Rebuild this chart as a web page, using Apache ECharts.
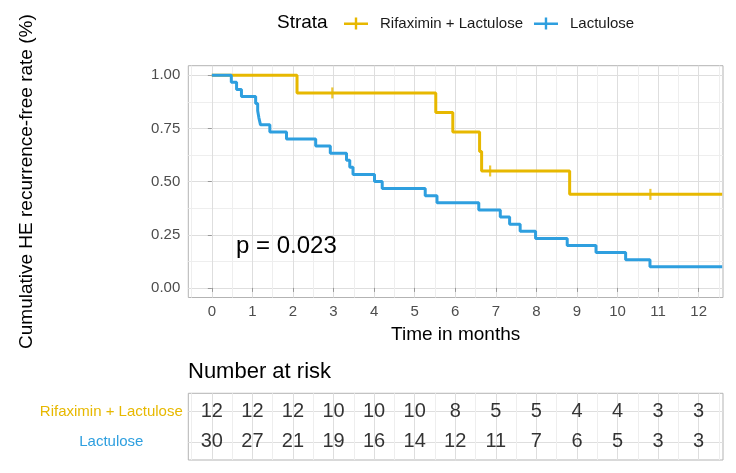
<!DOCTYPE html>
<html>
<head>
<meta charset="utf-8">
<script src="https://cdn.jsdelivr.net/npm/echarts@6/dist/echarts.min.js"></script>
<style>
html,body{margin:0;padding:0;background:#fff;}
#c{width:736px;height:473px;}
</style>
</head>
<body>
<div id="c"></div>
<script>
// ---- data ----
const rifTimes = [0, 2.10, 5.52, 5.94, 6.60, 6.65, 8.82, 12.58];
const rifSurv  = [1, 0.917, 0.825, 0.733, 0.642, 0.550, 0.440, 0.440];
const rifCensorTimes = [2.97, 6.86, 10.81];
const rifCensorSurv  = [0.917, 0.550, 0.440];

const lacTimes = [0, 0.48, 0.61, 0.73, 1.08, 1.13, 1.16, 1.20, 1.43, 1.84, 2.56, 2.92, 3.32, 3.40, 3.48,
                  4.01, 4.20, 5.26, 5.55, 6.58, 7.11, 7.34, 7.60, 7.98, 8.76, 9.47, 10.20, 10.80, 12.58];
const lacSurv  = [1, 0.967, 0.933, 0.900, 0.867, 0.833, 0.800, 0.767, 0.733, 0.700, 0.667, 0.633, 0.600, 0.567, 0.533,
                  0.500, 0.467, 0.433, 0.400, 0.367, 0.333, 0.300, 0.267, 0.233, 0.200, 0.167, 0.133, 0.100, 0.100];

const xTicks = [0,1,2,3,4,5,6,7,8,9,10,11,12];
const xMinor = [-0.5,0.5,1.5,2.5,3.5,4.5,5.5,6.5,7.5,8.5,9.5,10.5,11.5,12.5];
const yTicks = [0, 0.25, 0.5, 0.75, 1];
const yMinor = [0.125, 0.375, 0.625, 0.875];

const riskTimes = [0,1,2,3,4,5,6,7,8,9,10,11,12];
const riskRif = [12,12,12,10,10,10,8,5,5,4,4,3,3];
const riskLac = [30,27,21,19,16,14,12,11,7,6,5,3,3];

const strataNames = ['Rifaximin + Lactulose', 'Lactulose'];
const colRif = '#E7B800', colLac = '#2E9FDF';

// ---- layout ----
const FONT = 'Liberation Sans, Arial, sans-serif';
const X0 = 188.3, X1 = 723;
const xMin = -0.58, xMax = 12.6;
const majorCol = '#dedede', minorCol = '#eeeeee', borderCol = '#b3b3b3';

const chart = echarts.init(document.getElementById('c'), null, {renderer: 'canvas'});

function pairs(xs, ys){ return xs.map((x,i)=>[x, ys[i]]); }

const fmtY = v => Number(v).toFixed(2);

const option = {
  backgroundColor: '#fff',
  textStyle: {fontFamily: FONT},
  animation: false,
  grid: [
    {left: X0, top: 65.7, width: X1 - X0, height: 231.8, show: true, borderColor: borderCol, borderWidth: 1, backgroundColor: '#fff'},
    {left: X0, top: 393.3, width: X1 - X0, height: 66.7, show: true, borderColor: borderCol, borderWidth: 1, backgroundColor: '#fff'}
  ],
  xAxis: [
    { // main major
      type: 'value', gridIndex: 0, min: xMin, max: xMax,
      name: 'Time in months', nameLocation: 'middle', nameGap: 28,
      nameTextStyle: {fontSize: 19, color: '#000', fontFamily: FONT},
      axisLine: {show: false},
      axisTick: {show: true, customValues: xTicks, length: 4, lineStyle: {color: '#999'}},
      axisLabel: {customValues: xTicks, fontSize: 15, color: '#4d4d4d', margin: 7, fontFamily: FONT},
      splitLine: {show: true, lineStyle: {color: majorCol, width: 1}}
    },
    { // main minor
      type: 'value', gridIndex: 0, min: xMin, max: xMax,
      axisLine: {show: false}, axisLabel: {show: false},
      axisTick: {show: false, customValues: xMinor},
      splitLine: {show: true, lineStyle: {color: minorCol, width: 1}}
    },
    { // table major
      type: 'value', gridIndex: 1, min: xMin, max: xMax,
      axisLine: {show: false}, axisLabel: {show: false},
      axisTick: {show: false, customValues: xTicks},
      splitLine: {show: true, lineStyle: {color: majorCol, width: 1}}
    },
    { // table minor
      type: 'value', gridIndex: 1, min: xMin, max: xMax,
      axisLine: {show: false}, axisLabel: {show: false},
      axisTick: {show: false, customValues: xMinor},
      splitLine: {show: true, lineStyle: {color: minorCol, width: 1}}
    }
  ],
  yAxis: [
    {
      type: 'value', gridIndex: 0, min: -0.045, max: 1.045,
      name: 'Cumulative HE recurrence-free rate (%)', nameLocation: 'middle', nameGap: 152,
      nameTextStyle: {fontSize: 19, color: '#000', fontFamily: FONT},
      axisLine: {show: false},
      axisTick: {show: true, customValues: yTicks, length: 4, lineStyle: {color: '#999'}},
      axisLabel: {customValues: yTicks, fontSize: 15, color: '#4d4d4d', margin: 8, formatter: fmtY, fontFamily: FONT},
      splitLine: {show: true, lineStyle: {color: majorCol, width: 1}}
    },
    {
      type: 'value', gridIndex: 0, min: -0.045, max: 1.045,
      axisLine: {show: false}, axisLabel: {show: false},
      axisTick: {show: false, customValues: yMinor},
      splitLine: {show: true, lineStyle: {color: minorCol, width: 1}}
    },
    {
      type: 'value', gridIndex: 1, min: 0.4, max: 2.6,
      axisLine: {show: false},
      axisTick: {show: false, customValues: [1, 2]},
      axisLabel: {
        customValues: [1, 2], fontSize: 15, align: 'center', margin: 77, fontFamily: FONT,
        formatter: v => (Number(v) === 2 ? strataNames[0] : strataNames[1]),
        color: v => (Number(v) === 2 ? colRif : colLac)
      },
      splitLine: {show: true, lineStyle: {color: majorCol, width: 1}}
    }
  ],
  legend: {
    left: 339, top: 11,
    itemWidth: 24, itemHeight: 12, itemGap: 11,
    icon: 'path://M0,5h24v2.4h-24z M10.8,0h2.4v12h-2.4z',
    textStyle: {fontSize: 15, color: '#1a1a1a', padding: [0, 0, 0, 7], fontFamily: FONT},
    data: strataNames,
    selectedMode: false
  },
  graphic: [
    {type: 'text', left: 277, top: 13, z: 100, style: {text: 'Strata', fontSize: 19, fill: '#000', fontFamily: FONT}},
    {type: 'text', left: 236, top: 234, z: 100, style: {text: 'p = 0.023', fontSize: 24, fill: '#000', fontFamily: FONT}},
    {type: 'text', left: 188, top: 361, z: 100, style: {text: 'Number at risk', fontSize: 22, fill: '#000', fontFamily: FONT}}
  ],
  series: [
    {
      name: strataNames[0], type: 'line', step: 'end', xAxisIndex: 0, yAxisIndex: 0,
      data: pairs(rifTimes, rifSurv), showSymbol: false, symbol: 'none',
      lineStyle: {color: colRif, width: 3}, itemStyle: {color: colRif}, z: 3
    },
    {
      name: 'rifCensor', type: 'scatter', xAxisIndex: 0, yAxisIndex: 0,
      data: pairs(rifCensorTimes, rifCensorSurv), symbol: 'rect', symbolSize: [2.2, 11],
      itemStyle: {color: colRif}, z: 3
    },
    {
      name: strataNames[1], type: 'line', step: 'end', xAxisIndex: 0, yAxisIndex: 0,
      data: pairs(lacTimes, lacSurv), showSymbol: false, symbol: 'none',
      lineStyle: {color: colLac, width: 3}, itemStyle: {color: colLac}, z: 4
    },
    {
      name: 'riskRif', type: 'scatter', xAxisIndex: 2, yAxisIndex: 2,
      data: riskTimes.map((t, i) => [t, 2, riskRif[i]]), symbolSize: 0,
      label: {show: true, position: 'inside', formatter: p => String(p.value[2]), fontSize: 20, color: '#000', fontFamily: FONT}
    },
    {
      name: 'riskLac', type: 'scatter', xAxisIndex: 2, yAxisIndex: 2,
      data: riskTimes.map((t, i) => [t, 1, riskLac[i]]), symbolSize: 0,
      label: {show: true, position: 'inside', formatter: p => String(p.value[2]), fontSize: 20, color: '#000', fontFamily: FONT}
    }
  ]
};
chart.setOption(option);
</script>
</body>
</html>
